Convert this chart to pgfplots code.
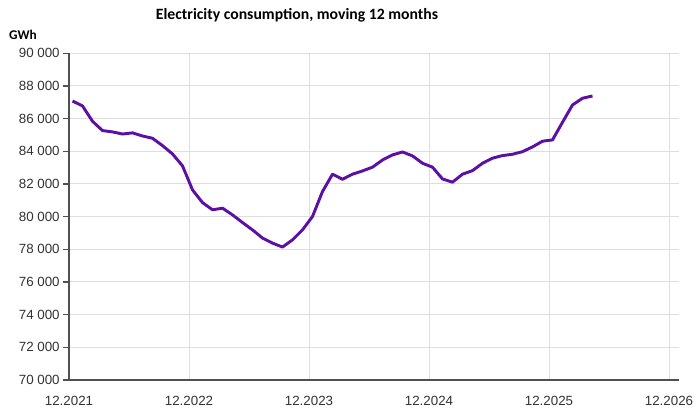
\documentclass[border=0pt]{standalone}
\usepackage{fontspec}
\setmainfont{Liberation Sans}
\newfontfamily\titlefont{Carlito}
\usepackage{pgfplots}
\pgfplotsset{compat=1.18}

\definecolor{linepurple}{RGB}{92,16,164}
\definecolor{gridgray}{RGB}{222,222,222}
\definecolor{axisgray}{RGB}{80,80,80}
\definecolor{labelgray}{RGB}{50,50,50}

\begin{document}
\begin{tikzpicture}
\begin{axis}[
    name=ax,
    scale only axis,
    width=457.5pt,
    height=245pt,
    xmin=0, xmax=61,
    ymin=70000, ymax=90000,
    scaled y ticks=false,
    xtick={0,12,24,36,48,60},
    xticklabels={12.2021,12.2022,12.2023,12.2024,12.2025,12.2026},
    ytick={70000,72000,74000,76000,78000,80000,82000,84000,86000,88000,90000},
    yticklabels={70 000,72 000,74 000,76 000,78 000,80 000,82 000,84 000,86 000,88 000,90 000},
    axis x line*=bottom,
    axis y line*=left,
    axis line style={axisgray, line width=0.9pt, -},
    tick align=outside,
    ytick pos=left,
    xtick style={draw=none},
    ytick style={axisgray, line width=0.8pt},
    major tick length=4.5pt,
    grid=major,
    grid style={gridgray, line width=0.75pt},
    tick label style={font=\fontsize{10}{12}\selectfont, text=labelgray},
    yticklabel style={xshift=1pt},
    xticklabel style={yshift=-4pt},
    clip=false,
]
\addplot[line width=2.2pt, color=linepurple, line join=round]
coordinates {
(0.35,87080) (1.35,86780) (2.35,85840) (3.35,85270) (4.35,85190) (5.35,85060)
(6.35,85130) (7.35,84940) (8.35,84800) (9.35,84350) (10.35,83840) (11.35,83110)
(12.35,81640) (13.35,80860) (14.35,80420) (15.35,80520) (16.35,80110) (17.35,79640)
(18.35,79190) (19.35,78690) (20.35,78380) (21.35,78140) (22.35,78580) (23.35,79190)
(24.35,80010) (25.35,81540) (26.35,82600) (27.35,82290) (28.35,82600) (29.35,82800)
(30.35,83030) (31.35,83470) (32.35,83780) (33.35,83960) (34.35,83720) (35.35,83270)
(36.35,83030) (37.35,82310) (38.35,82110) (39.35,82600) (40.35,82820) (41.35,83270)
(42.35,83580) (43.35,83740) (44.35,83820) (45.35,83980) (46.35,84270) (47.35,84620)
(48.35,84700) (49.35,85780) (50.35,86840) (51.35,87250) (52.35,87390)
};
\end{axis}
\node[font=\titlefont\bfseries\fontsize{11.8}{14}\selectfont] at ([shift={(171pt,273.75pt)}]ax.south west) {Electricity consumption, moving 12 months};
\node[font=\titlefont\bfseries\fontsize{10}{12}\selectfont] at ([shift={(-34.5pt,258.75pt)}]ax.south west) {GWh};
\pgfresetboundingbox
\path[use as bounding box] ([shift={(-51.75pt,285pt)}]ax.south west) rectangle ([shift={(473.25pt,-22.5pt)}]ax.south west);
\end{tikzpicture}
\end{document}
